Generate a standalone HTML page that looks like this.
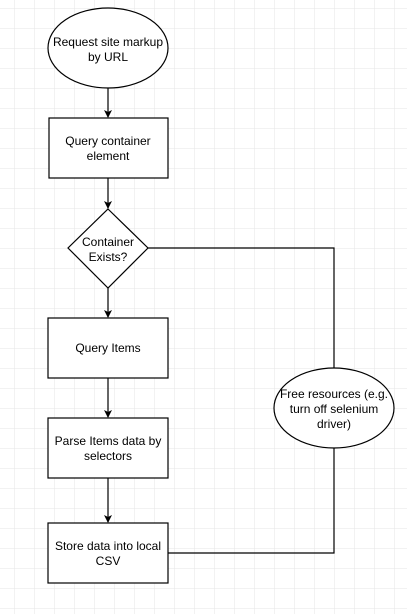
<!DOCTYPE html>
<html><head><style>
html,body{margin:0;padding:0;background:#fff;}
svg{display:block;}
text{font-family:"Liberation Sans",Arial,sans-serif;font-size:12px;fill:#000;}
</style></head><body>
<svg width="407" height="614" viewBox="0 0 407 614">
<defs>
<pattern id="g" x="14" y="8" width="20" height="20" patternUnits="userSpaceOnUse">
<path d="M0 0H20M0 0V20" stroke="#e6e6e6" stroke-width="1" fill="none"/>
</pattern>
<marker id="a" markerWidth="8" markerHeight="8" refX="7" refY="4" orient="auto" markerUnits="userSpaceOnUse">
<path d="M0 0L8 4L0 8L2 4Z" fill="#000"/>
</marker>
</defs>
<rect width="407" height="614" fill="url(#g)"/>
<g stroke="#000" stroke-width="1.2" fill="#fff">
<ellipse cx="108" cy="48" rx="60" ry="40"/>
<rect x="49" y="118" width="119" height="60"/>
<path d="M108 209L148 248L108 288L68 248Z"/>
<rect x="48" y="318" width="120" height="60"/>
<rect x="48" y="418" width="120" height="60"/>
<rect x="48" y="523" width="120" height="60"/>
<ellipse cx="334" cy="408" rx="60" ry="40"/>
</g>
<g stroke="#000" stroke-width="1.2" fill="none">
<path d="M108 88V117" marker-end="url(#a)"/>
<path d="M108 178V208" marker-end="url(#a)"/>
<path d="M108 288V317" marker-end="url(#a)"/>
<path d="M108 378V417" marker-end="url(#a)"/>
<path d="M108 478V522" marker-end="url(#a)"/>
<path d="M148 248H334V368"/>
<path d="M334 448V553H168"/>
</g>
<g text-anchor="middle">
<text x="108" y="46">Request site markup</text>
<text x="108" y="61">by URL</text>
<text x="108" y="145">Query container</text>
<text x="108" y="160">element</text>
<text x="108" y="246">Container</text>
<text x="108" y="261">Exists?</text>
<text x="108" y="352">Query Items</text>
<text x="108" y="445">Parse Items data by</text>
<text x="108" y="460">selectors</text>
<text x="108" y="550">Store data into local</text>
<text x="108" y="565">CSV</text>
<text x="334" y="398">Free resources (e.g.</text>
<text x="334" y="413">turn off selenium</text>
<text x="334" y="428">driver)</text>
</g>
</svg>
</body></html>
